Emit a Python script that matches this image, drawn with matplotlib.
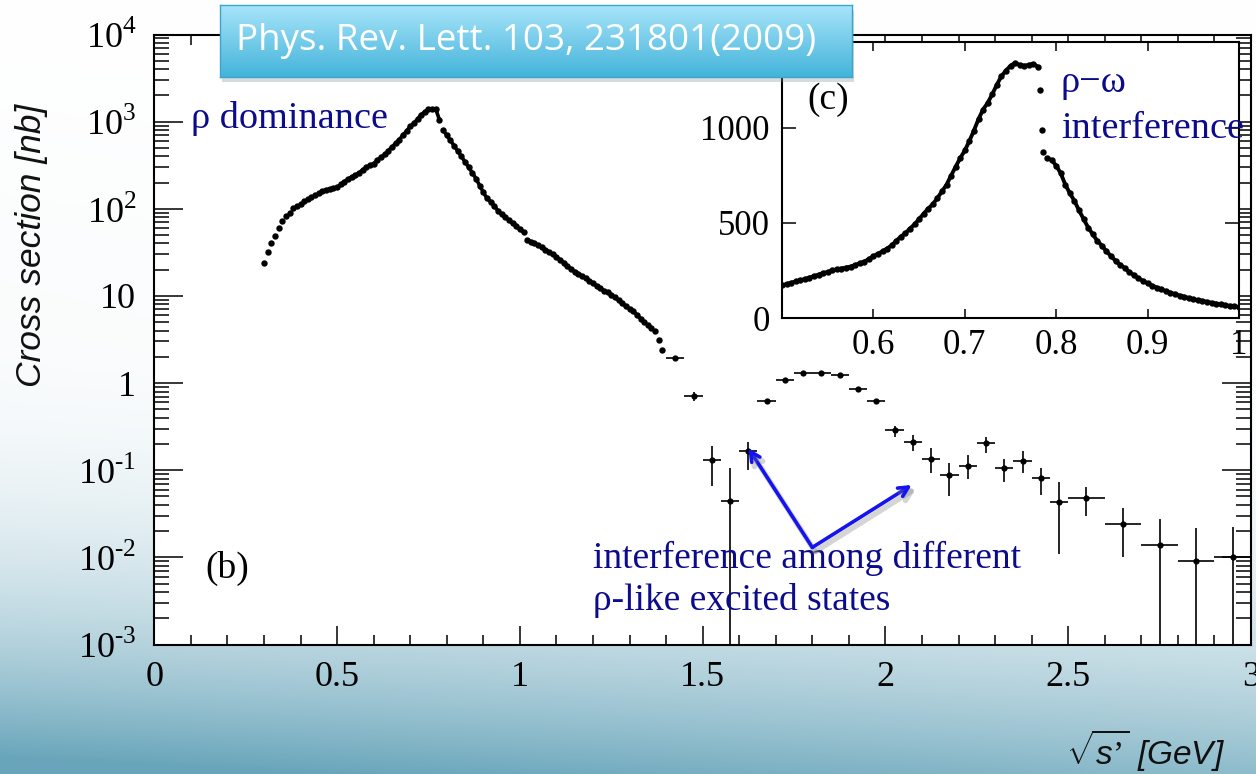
import matplotlib.pyplot as plt
import numpy as np
from matplotlib import patheffects as pe
from matplotlib.patches import Rectangle
from matplotlib.ticker import FixedLocator, MultipleLocator, LogLocator, NullFormatter

plt.rcParams['mathtext.fontset'] = 'custom'
plt.rcParams['mathtext.rm'] = 'Liberation Serif'
plt.rcParams['mathtext.it'] = 'Liberation Sans:italic'

# fine-binned region, 0.30-1.39 GeV in 10 MeV steps [nb]
low_x = np.round(np.arange(0.30, 1.395, 0.01), 2)
low_y = np.array([
    24, 32, 40, 49, 60, 73, 82, 90, 102, 107,
    114, 123, 130, 136, 143, 150, 158, 165, 169, 172,
    176, 190, 205, 220, 232, 245, 258, 280, 300, 316,
    330, 360, 390, 420, 465, 510, 565, 620, 700, 780,
    880, 960, 1070, 1200, 1300, 1390, 1400, 1390, 1050, 800,
    700, 610, 530, 460, 400, 345, 300, 258, 222, 185,
    155, 132, 120, 108, 95, 86, 80, 74, 68, 63,
    58, 54, 44, 42, 40, 38, 36, 34, 32, 30,
    28, 26, 24, 22, 20.5, 19, 18, 17, 16, 15,
    14, 13, 12.2, 11.5, 11, 10.3, 9.6, 8.9, 8.2, 7.6,
    7.1, 6.7, 6.1, 5.5, 5.0, 4.6, 4.3, 4.0, 3.1, 2.4,
])

# coarse bins above 1.4 GeV
hi_x = np.array([1.425, 1.475, 1.525, 1.575, 1.625, 1.675, 1.725, 1.775, 1.825, 1.875,
                 1.925, 1.975, 2.025, 2.075, 2.125, 2.175, 2.225, 2.275, 2.325, 2.375,
                 2.425, 2.475, 2.55, 2.65, 2.75, 2.85, 2.95])
hi_xerr = np.array([0.025] * 22 + [0.05] * 5)
hi_y = np.array([1.94, 0.71, 0.131, 0.0444, 0.164, 0.615, 1.09, 1.30, 1.32, 1.24,
                 0.86, 0.62, 0.29, 0.211, 0.134, 0.088, 0.113, 0.204, 0.105, 0.129,
                 0.082, 0.0428, 0.0477, 0.0242, 0.0138, 0.00906, 0.0102])
hi_up = np.array([0.08, 0.09, 0.06, 0.061, 0.049, 0.03, 0.04, 0.04, 0.04, 0.04,
                  0.03, 0.03, 0.033, 0.044, 0.045, 0.034, 0.036, 0.039, 0.030, 0.035,
                  0.025, 0.031, 0.017, 0.013, 0.0137, 0.0128, 0.0123])
hi_dn = np.array([0.08, 0.08, 0.065, 0.0440, 0.063, 0.03, 0.04, 0.04, 0.04, 0.04,
                  0.03, 0.03, 0.047, 0.044, 0.041, 0.037, 0.034, 0.045, 0.031, 0.036,
                  0.030, 0.032, 0.018, 0.014, 0.0136, 0.0090, 0.0101])

# rho-omega region on a linear scale (5 MeV steps)
in_x1 = np.round(np.arange(0.500, 0.7801, 0.005), 3)
in_y1 = np.array([
    172, 178, 185, 192, 198, 205, 212, 220, 228, 236,
    242, 250, 256, 260, 265, 270, 278, 288, 296, 310,
    325, 338, 350, 365, 382, 405, 428, 445, 470, 492,
    520, 548, 575, 598, 630, 665, 700, 748, 795, 840,
    880, 930, 985, 1045, 1095, 1130, 1175, 1225, 1270, 1300,
    1325, 1340, 1330, 1325, 1330, 1335, 1320,
])
in_xd = np.array([0.782, 0.784, 0.786])
in_yd = np.array([1200, 990, 870])
in_x2 = np.round(np.arange(0.790, 1.0001, 0.005), 3)
in_y2 = np.array([
    840, 830, 800, 760, 700, 655, 615, 565, 520, 475,
    440, 405, 380, 350, 325, 300, 280, 262, 242, 225,
    208, 195, 182, 170, 160, 150, 142, 133, 126, 118,
    112, 105, 99, 94, 90, 85, 80, 76, 72, 68,
    64, 61, 58,
])

x_ticks = [0, 0.5, 1, 1.5, 2, 2.5, 3]
x_labels = ['0', '0.5', '1', '1.5', '2', '2.5', '3']
y_ticks = [1e-3, 1e-2, 1e-1, 1, 10, 1e2, 1e3, 1e4]
y_labels = ['$10^{\u20103}$', '$10^{\u20102}$', '$10^{\u20101}$', '1', '10',
            r'$10^{2}$', r'$10^{3}$', r'$10^{4}$']
in_xticks = [0.6, 0.7, 0.8, 0.9, 1.0]
in_xlabels = ['0.6', '0.7', '0.8', '0.9', '1']
in_yticks = [0, 500, 1000]

W, H = 1256, 774
fig = plt.figure(figsize=(W / 100, H / 100), dpi=100)

# slide background
bg = fig.add_axes([0, 0, 1, 1], zorder=-10)
u = np.linspace(0, 1, W)[None, :]
v = np.linspace(0, 1, H)[:, None]
t = np.clip((v - 0.42) / 0.58, 0, 1) ** 2.4 * (1 - 0.25 * u) + 0.08 * v * (1 - u)
t = np.clip(t, 0, 1)[..., None]
dark = np.array([0x68, 0xa5, 0xba]) / 255
img = (1 - t) * np.ones(3) + t * dark
bg.imshow(img, aspect='auto', extent=[0, 1, 0, 1])
bg.axis('off')

serif = 'Liberation Serif'
navy = '#0b0b8c'

# main panel
ax = fig.add_axes([154.3 / W, 1 - 644.5 / H, 1096.7 / W, 610 / H])
ax.set_facecolor('white')
# dense points merge into a band between the threshold tail and the phi dip
for a, b in [(15, 49), (49, 72), (72, 104)]:
    ax.plot(low_x[a:b], low_y[a:b], '-', lw=2.6, color='black', solid_capstyle='round')
ax.plot(low_x, low_y, 'o', ms=4.6, mew=0, color='black')
ax.errorbar(hi_x, hi_y, yerr=[hi_dn, hi_up], xerr=hi_xerr, fmt='o', ms=4.5,
            mew=0, color='black', elinewidth=1.2, capsize=0)
ax.set_yscale('log')
ax.set_xlim(0, 3)
ax.set_ylim(1e-3, 1e4)
ax.xaxis.set_major_locator(FixedLocator(x_ticks))
ax.set_xticklabels(x_labels, fontfamily=serif, fontsize=26)
ax.xaxis.set_minor_locator(MultipleLocator(0.1))
ax.yaxis.set_major_locator(FixedLocator(y_ticks))
ax.set_yticklabels(y_labels, fontfamily=serif, fontsize=26)
ax.yaxis.set_minor_locator(LogLocator(base=10, subs=np.arange(2, 10), numticks=20))
ax.yaxis.set_minor_formatter(NullFormatter())
ax.tick_params(which='both', direction='in', top=True, right=True, width=1.1, color='black')
ax.tick_params(axis='x', which='major', length=14, pad=12)
ax.tick_params(axis='x', which='minor', length=7)
ax.tick_params(axis='y', which='major', length=21, pad=13)
ax.tick_params(axis='y', which='minor', length=11)
for s in ax.spines.values():
    s.set_linewidth(1.5)

ax.text(0.1, 838, 'ρ dominance', fontfamily=serif, fontsize=27.5, color=navy, va='baseline')
ax.text(0.2, 0.0075, '(b)', fontfamily=serif, fontsize=27, color='black', ha='center', va='center')
ax.text(1.2, 0.00753, 'interference among different', fontfamily=serif, fontsize=27,
        color=navy, va='baseline')
ax.text(1.2, 0.00248, 'ρ-like excited states', fontfamily=serif, fontsize=27,
        color=navy, va='baseline')

shadow = [pe.SimpleLineShadow(offset=(2, -3), shadow_color='#777777', alpha=0.3, linewidth=4),
          pe.Normal()]
for tip in [(1.625, 0.179), (2.072, 0.0678)]:
    ax.annotate('', xy=tip, xytext=(1.80, 0.013),
                arrowprops=dict(arrowstyle='->,head_length=0.7,head_width=0.35',
                                color='#1414f0', lw=2.6, shrinkA=0, shrinkB=0,
                                path_effects=shadow))

# rho-omega inset
ax_in = fig.add_axes([782 / W, 1 - 318 / H, 457 / W, 276 / H])
ax_in.set_facecolor('white')
for xs, ys in [(in_x1, in_y1), (in_x2, in_y2)]:
    ax_in.plot(xs, ys, '-', lw=2.8, color='black', solid_capstyle='round')
    ax_in.plot(xs, ys, 'o', ms=4.6, mew=0, color='black')
ax_in.plot(in_xd, in_yd, 'o', ms=4.6, mew=0, color='black')
ax_in.set_xlim(0.5, 1.0)
ax_in.set_ylim(0, 1450)
ax_in.xaxis.set_major_locator(FixedLocator(in_xticks))
ax_in.set_xticklabels(in_xlabels, fontfamily=serif, fontsize=25)
ax_in.yaxis.set_major_locator(FixedLocator(in_yticks))
ax_in.set_yticklabels([str(v) for v in in_yticks], fontfamily=serif, fontsize=25)
ax_in.tick_params(direction='in', top=True, right=True, width=1.1, color='black')
ax_in.tick_params(axis='x', length=6.5, pad=8)
ax_in.tick_params(axis='y', length=10, pad=9)
for s in ax_in.spines.values():
    s.set_linewidth(1.5)
ax_in.text(0.55, 1145, '(c)', fontfamily=serif, fontsize=27, color='black', ha='center', va='center')
ax_in.text(0.805, 1187, 'ρ\u2212ω', fontfamily=serif, fontsize=27.5, color=navy, va='baseline')
ax_in.text(0.805, 946, 'interference', fontfamily=serif, fontsize=27.5, color=navy, va='baseline')

# axis titles
fig.text(32 / W, 1 - 245 / H, 'Cross section [nb]', rotation=90, ha='center', va='center',
         fontfamily='Liberation Sans', fontstyle='italic', fontsize=25.5, color='#111111')
fig.text(1225 / W, 1 - 750 / H, r"$\sqrt{s’}$ [GeV]", ha='right', va='center',
         fontfamily='Liberation Sans', fontstyle='italic', fontsize=24, color='#111111')

# citation banner
bx = fig.add_axes([220 / W, 1 - 77 / H, 632 / W, 72 / H], zorder=5)
grad = np.linspace(0, 1, 100)[:, None, None]
top_c = np.array([0xa8, 0xe4, 0xfa]) / 255
bot_c = np.array([0x44, 0xb4, 0xda]) / 255
bx.imshow((1 - grad) * top_c + grad * bot_c, aspect='auto', extent=[0, 1, 0, 1])
bx.set_xlim(0, 1)
bx.set_ylim(0, 1)
bx.set_xticks([])
bx.set_yticks([])
for s in bx.spines.values():
    s.set_color('#3aa6cc')
    s.set_linewidth(1)
fig.patches.append(Rectangle((222 / W, 1 - 82 / H), 632 / W, 72 / H, transform=fig.transFigure,
                             facecolor='#7a8a90', alpha=0.3, edgecolor='none', zorder=4))
bx.text(0.485, 0.5, 'Phys. Rev. Lett. 103, 231801(2009)', ha='center', va='center',
        fontfamily='Open Sans', fontsize=26.5, color='white')

fig.savefig('out.png', dpi=100)
